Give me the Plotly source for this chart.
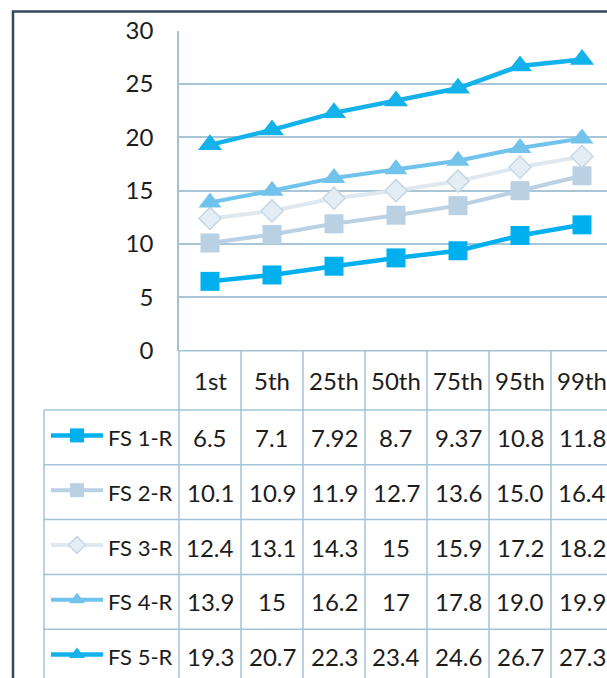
import plotly.graph_objects as go

# ---------------- data ----------------
percentiles = ["1st", "5th", "25th", "50th", "75th", "95th", "99th"]
series_names = ["FS 1-R", "FS 2-R", "FS 3-R", "FS 4-R", "FS 5-R"]
fs1_r = ["6.5", "7.1", "7.92", "8.7", "9.37", "10.8", "11.8"]
fs2_r = ["10.1", "10.9", "11.9", "12.7", "13.6", "15.0", "16.4"]
fs3_r = ["12.4", "13.1", "14.3", "15", "15.9", "17.2", "18.2"]
fs4_r = ["13.9", "15", "16.2", "17", "17.8", "19.0", "19.9"]
fs5_r = ["19.3", "20.7", "22.3", "23.4", "24.6", "26.7", "27.3"]
y_ticks = [0, 5, 10, 15, 20, 25, 30]

series_values = [fs1_r, fs2_r, fs3_r, fs4_r, fs5_r]

# ---------------- styles ----------------
W, H = 607, 678
FONT = "Lato, 'Open Sans', sans-serif"
TXT = "#1c1c1c"
GRID = "#a9c6d8"
TAB = "#a3c3d8"
BORDER = "#34495a"

styles = [
    dict(color="#00b0ee", symbol="square", size=19, lw=4.5, line_color=None, key_size=14),
    dict(color="#b9d1e3", symbol="square", size=19, lw=4.0, line_color=None, key_size=14),
    dict(color="#e4edf4", symbol="diamond", size=17, lw=4.0, line_color="#c6d7e4", key_size=13),
    dict(color="#72c3ec", symbol="triangle-up", size=20, lw=4.0, line_color=None, key_size=14),
    dict(color="#14b2ea", symbol="triangle-up", size=21, lw=4.5, line_color=None, key_size=14),
]
line_colors = ["#00b0ee", "#b9d1e3", "#dfe8ef", "#72c3ec", "#14b2ea"]

# pixel geometry
plot_left, plot_top, plot_bottom = 179.0, 30.7, 350.7
col_w = 62.0
header_bottom = 410.0
row_h = 54.8
label_left = 44.0

x_range = [-0.5, -0.5 + (W - plot_left) / col_w]

fig = go.Figure()

# main chart traces
for name, vals, st, lc in zip(series_names, series_values, styles, line_colors):
    mk = dict(color=st["color"], symbol=st["symbol"], size=st["size"])
    if st["line_color"]:
        mk["line"] = dict(color=st["line_color"], width=1.5)
    fig.add_trace(go.Scatter(
        x=percentiles, y=[float(v) for v in vals], name=name,
        mode="lines+markers", line=dict(color=lc, width=st["lw"]),
        marker=mk, xaxis="x", yaxis="y", showlegend=False, cliponaxis=False,
        hoverinfo="skip"))

# legend keys in the table (pixel overlay axes)
for r, (name, st, lc) in enumerate(zip(series_names, styles, line_colors)):
    cy = header_bottom + row_h * (r + 0.5) - 2
    mk = dict(color=st["color"], symbol=st["symbol"], size=st["key_size"],
              opacity=[0, 1, 0])
    if st["line_color"]:
        mk["line"] = dict(color=st["line_color"], width=1.5)
    fig.add_trace(go.Scatter(
        x=[51, 77, 103], y=[cy, cy, cy], mode="lines+markers",
        line=dict(color=lc, width=st["lw"]), marker=mk,
        xaxis="x2", yaxis="y2", showlegend=False, hoverinfo="skip"))

shapes = []
annotations = []

def hline(y, x0, x1, color=TAB, w=1.5):
    shapes.append(dict(type="line", xref="x2", yref="y2", x0=x0, x1=x1, y0=y, y1=y,
                       line=dict(color=color, width=w), layer="above"))

def vline(x, y0, y1, color=TAB, w=1.5):
    shapes.append(dict(type="line", xref="x2", yref="y2", x0=x, x1=x, y0=y0, y1=y1,
                       line=dict(color=color, width=w), layer="above"))

n_cols = len(percentiles)
n_rows = len(series_names)
table_bottom = header_bottom + row_h * n_rows

# horizontal table lines
hline(plot_bottom, plot_left, W + 5)
hline(header_bottom, label_left, W + 5)
for r in range(1, n_rows + 1):
    hline(header_bottom + row_h * r, label_left, W + 5)
# vertical table lines
for k in range(n_cols + 1):
    vline(plot_left + col_w * k, plot_bottom, table_bottom)
vline(label_left, header_bottom, table_bottom)

# header labels
for i, p in enumerate(percentiles):
    annotations.append(dict(xref="x2", yref="y2", x=plot_left + col_w * (i + 0.5),
                            y=(plot_bottom + header_bottom) / 2, text=p, showarrow=False,
                            font=dict(family=FONT, size=24, color=TXT),
                            xanchor="center", yanchor="middle"))
# row labels and values
for r, (name, vals) in enumerate(zip(series_names, series_values)):
    cy = header_bottom + row_h * (r + 0.5)
    annotations.append(dict(xref="x2", yref="y2", x=106, y=cy, text=name, showarrow=False,
                            font=dict(family=FONT, size=22, color=TXT),
                            xanchor="left", yanchor="middle"))
    for i, v in enumerate(vals):
        annotations.append(dict(xref="x2", yref="y2", x=plot_left + col_w * (i + 0.5), y=cy,
                                text=v, showarrow=False,
                                font=dict(family=FONT, size=24, color=TXT),
                                xanchor="center", yanchor="middle"))

# outer border
shapes.append(dict(type="rect", xref="paper", yref="paper",
                   x0=13 / W, x1=1.05, y0=-0.05, y1=1 - 11.5 / H,
                   line=dict(color=BORDER, width=2.5), layer="above"))

fig.update_layout(
    width=W, height=H,
    margin=dict(l=0, r=0, t=0, b=0, pad=0, autoexpand=False),
    paper_bgcolor="white", plot_bgcolor="rgba(0,0,0,0)",
    xaxis=dict(domain=[plot_left / W, 1], range=x_range, type="category",
               showticklabels=False, showgrid=False, zeroline=False,
               showline=False, ticks="", anchor="y", fixedrange=True, automargin=False),
    yaxis=dict(domain=[1 - plot_bottom / H, 1 - plot_top / H], range=[0, 30],
               tickvals=y_ticks, ticktext=[str(t) for t in y_ticks],
               showgrid=True, gridcolor=GRID, gridwidth=1.5, zeroline=False,
               showline=True, linecolor=TAB, linewidth=1.5, ticks="",
               tickfont=dict(family=FONT, size=24, color=TXT),
               ticklabelstandoff=19, anchor="x", fixedrange=True, automargin=False),
    xaxis2=dict(domain=[0, 1], range=[0, W], visible=False, anchor="y2",
                fixedrange=True, automargin=False),
    yaxis2=dict(domain=[0, 1], range=[H, 0], visible=False, anchor="x2",
                fixedrange=True, automargin=False),
    shapes=shapes,
    annotations=annotations,
)

fig.write_html("out.html")
